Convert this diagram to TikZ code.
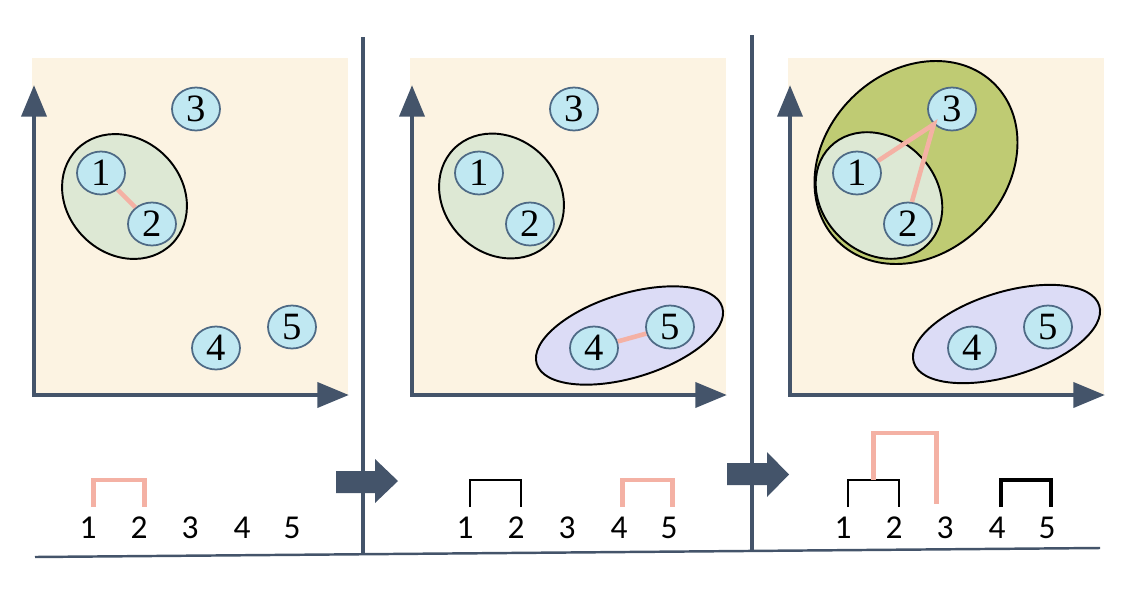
\documentclass[tikz,border=0pt]{standalone}
\usepackage{fontspec}
\setmainfont{Liberation Serif}
\newfontfamily\calibfont{Carlito}
\usepackage{xcolor}
\usepackage{tikz}
\usetikzlibrary{calc, shapes.geometric, arrows.meta}

\definecolor{bgpeach}{HTML}{FCF3E2}
\definecolor{slate}{HTML}{44546A}
\definecolor{ptfill}{HTML}{C0E8F2}
\definecolor{ptedge}{HTML}{4E6A85}
\definecolor{lightgreen}{HTML}{DDE8D4}
\definecolor{olive}{HTML}{BFCB73}
\definecolor{lavender}{HTML}{DCDCF6}
\definecolor{salmon}{HTML}{F4B1A4}

\tikzset{
  point/.style={ellipse, draw=ptedge, fill=ptfill, line width=1pt,
    minimum width=0.96cm, minimum height=0.86cm, inner sep=0pt,
    font=\fontsize{22}{26}\selectfont},
  leaf/.style={inner sep=0pt, font=\calibfont\fontsize{19}{22}\selectfont},
  axis/.style={draw=slate, line width=2.8pt, line join=miter,
    {Triangle[length=18pt, width=14pt]}-{Triangle[length=18pt, width=14pt]}},
  cluster/.style={draw=black, line width=1.1pt},
  link/.style={draw=salmon, line width=2.6pt},
  merge/.style={draw=black, line width=1.1pt},
  sep/.style={draw=slate, line width=2.3pt},
}

\begin{document}
\begin{tikzpicture}[x=0.02cm, y=-0.02cm]
  \useasboundingbox (0,0) rectangle (1126,602);

  % panels: background and axes
  \foreach \dx in {0, 378, 756} {
    \fill[bgpeach] (32+\dx,58) rectangle (348+\dx,395);
    \draw[axis] (34+\dx,85) |- (349+\dx,395);
  }

  % clusters
  \draw[cluster, fill=lightgreen, rotate around={-45:(124.5,196.5)}]
    (124.5,196.5) ellipse [x radius=67, y radius=57.5];
  \draw[cluster, fill=lightgreen, rotate around={-45:(501.5,196)}]
    (501.5,196) ellipse [x radius=67, y radius=57.5];
  \draw[cluster, fill=lavender, rotate around={17:(629.5,335.5)}]
    (629.5,335.5) ellipse [x radius=97, y radius=42];
  \draw[cluster, fill=olive, rotate around={45:(916,162.5)}]
    (916,162.5) ellipse [x radius=111, y radius=91];
  \draw[cluster, fill=lightgreen, rotate around={-45:(879,195.5)}]
    (879,195.5) ellipse [x radius=69, y radius=57];
  \draw[cluster, fill=lavender, rotate around={17:(1006.5,334)}]
    (1006.5,334) ellipse [x radius=97, y radius=42];

  % data points
  \foreach \p/\dx in {1/0, 2/378, 3/756} {
    \foreach \k/\x/\y in {1/101/173, 2/152/224, 3/196/109, 4/216/348, 5/292/327}
      \node[point] (p\p n\k) at (\x+\dx,\y) {\k};
  }

  % nearest pairs
  \draw[link] (p1n1) -- (p1n2);
  \draw[link] (p2n4) -- (p2n5);
  \draw[link] (p3n1.30) -- (p3n3.220) -- (p3n2.80);

  % dendrogram leaves
  \coordinate (lo) at (0,507);
  \coordinate (hi) at (0,480);
  \coordinate (top) at (0,433);
  \foreach \p/\dx in {1/0, 2/377, 3/755} {
    \foreach \k/\x in {1/88, 2/139, 3/190, 4/242, 5/292}
      \node[leaf] (d\p\k) at (\x+\dx,528) {\k};
  }

  % dendrogram links
  \draw[link] ([xshift=3]d11.center |- lo) |- ([xshift=3]d12.center |- hi)
    -- ([xshift=3]d12.center |- lo);
  \draw[merge] ([xshift=3]d21.center |- lo) |- ([xshift=3]d22.center |- hi)
    -- ([xshift=3]d22.center |- lo);
  \draw[link] ([xshift=2]d24.center |- lo) |- ([xshift=2]d25.center |- hi)
    -- ([xshift=2]d25.center |- lo);
  \draw[merge] ([xshift=3]d31.center |- lo) |- ([xshift=3]d32.center |- hi)
    -- ([xshift=3]d32.center |- lo);
  \draw[link] ($([xshift=3]d31.center |- hi)!.5!([xshift=3]d32.center |- hi)$)
    -- ++(0,-47) -| ([xshift=-5]d33.center |- 0,504);
  \draw[merge, line width=2.3pt] ([xshift=2]d34.center |- lo)
    |- ([xshift=2]d35.center |- hi) -- ([xshift=2]d35.center |- lo);

  % step arrows
  \fill[slate] (336,471) -- (375,471) -- (375,459) -- (398,481) -- (375,503)
    -- (375,493) -- (336,493) -- cycle;
  \fill[slate] (727,463) -- (767,463) -- (767,452) -- (789,474.5) -- (767,497)
    -- (767,485) -- (727,485) -- cycle;

  % separators and base line
  \coordinate (s1) at (363,37);
  \coordinate (s2) at (752,35);
  \draw[sep] (s1) -- (363,555);
  \draw[sep] (s2) -- (752,550);
  \draw[slate, line width=1.4pt] (35,557) -- (1100,548);
\end{tikzpicture}
\end{document}
